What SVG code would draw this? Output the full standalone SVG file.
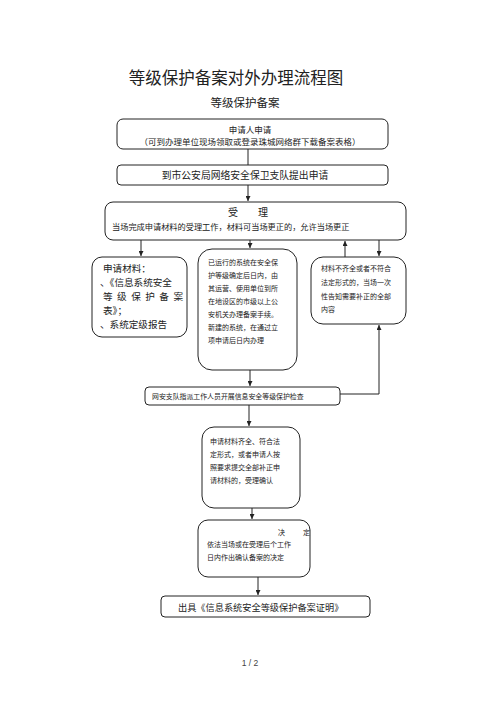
<svg xmlns="http://www.w3.org/2000/svg" width="500" height="708" viewBox="0 0 500 708">
<style>
.bx{fill:#fff;stroke:#222;stroke-width:1}
.t{font-family:"Noto Sans CJK SC","Liberation Serif",serif;fill:#222}
.ln{stroke:#222;stroke-width:1;fill:none}
</style>
<defs>
<marker id="ah" viewBox="0 0 6 6" refX="6" refY="3" markerWidth="5" markerHeight="5" orient="auto"><path d="M0,0 L6,3 L0,6 z" fill="#222"/></marker>
</defs>
<rect width="500" height="708" fill="#fff"/>
<text class="t" x="236" y="84" font-size="16.5" text-anchor="middle">等级保护备案对外办理流程图</text>
<text class="t" x="245" y="107" font-size="11.5" text-anchor="middle">等级保护备案</text>

<g id="connectors">
<line class="ln" x1="248" y1="149" x2="248" y2="165"/>
<line class="ln" x1="248" y1="185" x2="248" y2="201" marker-end="url(#ah)"/>
<line class="ln" x1="141" y1="240" x2="141" y2="256" marker-end="url(#ah)"/>
<line class="ln" x1="250" y1="240" x2="250" y2="248" marker-end="url(#ah)"/>
<line class="ln" x1="345" y1="257" x2="345" y2="241" marker-end="url(#ah)"/>
<line class="ln" x1="379" y1="240" x2="379" y2="256" marker-end="url(#ah)"/>
<polyline class="ln" points="340,394 379,394 379,325" marker-end="url(#ah)"/>
<line class="ln" x1="250" y1="370" x2="250" y2="386" marker-end="url(#ah)"/>
<line class="ln" x1="249" y1="405" x2="249" y2="426" marker-end="url(#ah)"/>
<line class="ln" x1="252" y1="508" x2="252" y2="519" marker-end="url(#ah)"/>
<line class="ln" x1="258" y1="577" x2="258" y2="595" marker-end="url(#ah)"/>
</g>

<g id="n1">
<rect class="bx" x="117" y="119" width="271" height="30" rx="6"/>
<text class="t" x="250" y="133" font-size="8.5" text-anchor="middle">申请人申请</text>
<text class="t" x="250" y="145" font-size="8.5" text-anchor="middle">（可到办理单位现场领取或登录珠城网络群下载备案表格）</text>
</g>
<g id="n2">
<rect class="bx" x="117" y="165" width="271" height="20" rx="4"/>
<text class="t" x="245" y="179" font-size="9.8" text-anchor="middle">到市公安局网络安全保卫支队提出申请</text>
</g>
<g id="n3">
<rect class="bx" x="105" y="202" width="301" height="38" rx="8"/>
<text class="t" x="248" y="216" font-size="10" text-anchor="middle">受　　理</text>
<text class="t" x="112" y="230" font-size="8.2">当场完成申请材料的受理工作，材料可当场更正的，允许当场更正</text>
</g>
<g id="n4">
<rect class="bx" x="92" y="257" width="95" height="80" rx="10"/>
<text class="t" x="103" y="272" font-size="9.6">申请材料：</text>
<text class="t" x="100" y="286" font-size="9.6">、《信息系统安全</text>
<text class="t" x="103" y="300" font-size="9.6" textLength="80" lengthAdjust="spacing">等级保护备案</text>
<text class="t" x="103" y="314" font-size="9.6">表》；</text>
<text class="t" x="100" y="328" font-size="9.6">、系统定级报告</text>
</g>
<g id="n5">
<rect class="bx" x="198" y="249" width="99" height="121" rx="14"/>
<text class="t" x="208" y="265" font-size="7">已运行的系统在安全保</text>
<text class="t" x="208" y="278" font-size="7">护等级确定后日内，由</text>
<text class="t" x="208" y="291" font-size="7">其运营、使用单位到所</text>
<text class="t" x="208" y="304" font-size="7">在地设区的市级以上公</text>
<text class="t" x="208" y="317" font-size="7">安机关办理备案手续。</text>
<text class="t" x="208" y="330" font-size="7">新建的系统，在通过立</text>
<text class="t" x="208" y="343" font-size="7">项申请后日内办理</text>
</g>
<g id="n6">
<rect class="bx" x="311" y="257" width="95" height="67" rx="12"/>
<text class="t" x="321" y="271" font-size="7">材料不齐全或者不符合</text>
<text class="t" x="321" y="285" font-size="7">法定形式的，当场一次</text>
<text class="t" x="321" y="299" font-size="7">性告知需要补正的全部</text>
<text class="t" x="321" y="312" font-size="7">内容</text>
</g>
<g id="n7">
<rect class="bx" x="145" y="387" width="195" height="18" rx="4"/>
<text class="t" x="152" y="399" font-size="6.9">网安支队指派工作人员开展信息安全等级保护检查</text>
</g>
<g id="n8">
<rect class="bx" x="202" y="427" width="98" height="81" rx="12"/>
<text class="t" x="210" y="444" font-size="7">申请材料齐全、符合法</text>
<text class="t" x="210" y="457" font-size="7">定形式，或者申请人按</text>
<text class="t" x="210" y="470" font-size="7">照要求提交全部补正申</text>
<text class="t" x="210" y="483" font-size="7">请材料的，受理确认</text>
</g>
<g id="n9">
<rect class="bx" x="198" y="520" width="112" height="57" rx="10"/>
<text class="t" x="278" y="535" font-size="7">决</text>
<text class="t" x="303" y="535" font-size="7">定</text>
<text class="t" x="207" y="547" font-size="7">依法当场或在受理后个工作</text>
<text class="t" x="207" y="560" font-size="7">日内作出确认备案的决定</text>
</g>
<g id="n10">
<rect class="bx" x="161" y="596" width="209" height="21" rx="4"/>
<text class="t" x="178" y="611" font-size="9.2">出具《信息系统安全等级保护备案证明》</text>
</g>
<text x="250" y="666" font-size="8.5" text-anchor="middle" font-family="Liberation Sans, sans-serif" fill="#444">1 / 2</text>
</svg>
